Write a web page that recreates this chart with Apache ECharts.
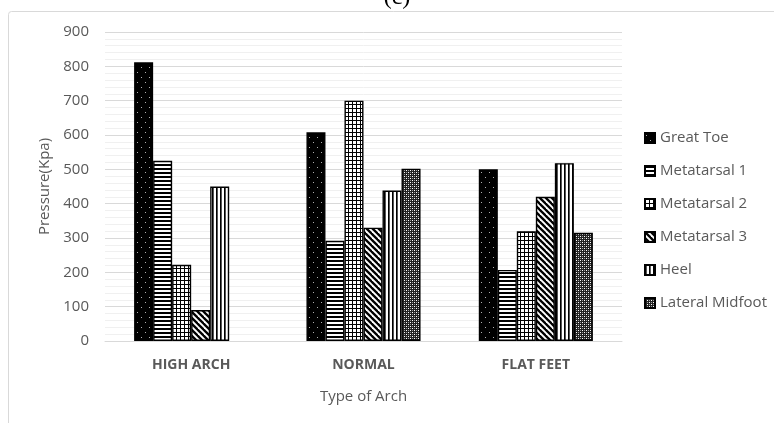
<!DOCTYPE html>
<html>
<head>
<meta charset="utf-8">
<script src="https://cdn.jsdelivr.net/npm/echarts@6/dist/echarts.min.js"></script>
<style>
  html, body { margin: 0; padding: 0; background: #fff; }
  #chart { width: 774px; height: 423px; }
</style>
</head>
<body>
<div id="chart"></div>
<script>
// Plantar pressure by arch type
const categories = ['HIGH ARCH', 'NORMAL', 'FLAT FEET'];
const greatToe = [812, 608, 500];
const metatarsal1 = [525, 292, 207];
const metatarsal2 = [222, 700, 320];
const metatarsal3 = [90, 330, 420];
const heel = [450, 438, 518];
const lateralMidfoot = [0, 502, 315];
const yTicks = { min: 0, max: 900, interval: 100 };

// Monochrome hatch fills built on small canvases
function pattern(w, h, draw) {
  const c = document.createElement('canvas');
  c.width = w; c.height = h;
  const ctx = c.getContext('2d');
  draw(ctx, w, h);
  return { image: c, repeat: 'repeat' };
}
const fills = {
  dots: pattern(8, 10, (ctx) => {
    ctx.fillStyle = '#000'; ctx.fillRect(0, 0, 8, 10);
    ctx.fillStyle = '#b0b0b0';
    ctx.fillRect(1, 2, 1, 1); ctx.fillRect(5, 7, 1, 1);
  }),
  horiz: pattern(1, 4, (ctx) => {
    ctx.fillStyle = '#fff'; ctx.fillRect(0, 0, 1, 4);
    ctx.fillStyle = '#000'; ctx.fillRect(0, 0, 1, 2);
  }),
  grid: pattern(4, 4, (ctx) => {
    ctx.fillStyle = '#fff'; ctx.fillRect(0, 0, 4, 4);
    ctx.fillStyle = '#000'; ctx.fillRect(0, 0, 4, 1); ctx.fillRect(0, 0, 1, 4);
  }),
  diag: pattern(6, 6, (ctx) => {
    ctx.fillStyle = '#fff'; ctx.fillRect(0, 0, 6, 6);
    ctx.strokeStyle = '#000'; ctx.lineWidth = 2.3;
    [-6, 0, 6].forEach(o => { ctx.beginPath(); ctx.moveTo(o - 1, -1); ctx.lineTo(o + 7, 7); ctx.stroke(); });
  }),
  vert: pattern(4, 1, (ctx) => {
    ctx.fillStyle = '#fff'; ctx.fillRect(0, 0, 4, 1);
    ctx.fillStyle = '#000'; ctx.fillRect(0, 0, 1, 1);
    ctx.fillStyle = '#555'; ctx.fillRect(1, 0, 1, 1);
  }),
  check: pattern(4, 4, (ctx) => {
    ctx.fillStyle = '#222'; ctx.fillRect(0, 0, 4, 4);
    ctx.fillStyle = '#fff'; ctx.fillRect(0, 0, 1, 1); ctx.fillRect(2, 2, 1, 1);
    ctx.fillStyle = '#9a9a9a'; ctx.fillRect(2, 0, 1, 1); ctx.fillRect(0, 2, 1, 1);
  })
};

const seriesDefs = [
  ['Great Toe', greatToe, fills.dots],
  ['Metatarsal 1', metatarsal1, fills.horiz],
  ['Metatarsal 2', metatarsal2, fills.grid],
  ['Metatarsal 3', metatarsal3, fills.diag],
  ['Heel', heel, fills.vert],
  ['Lateral Midfoot', lateralMidfoot, fills.check]
];

const textGray = '#595959';
const chart = echarts.init(document.getElementById('chart'), null, { renderer: 'canvas' });
chart.setOption({
  backgroundColor: '#fff',
  animation: false,
  graphic: [
    { type: 'rect', shape: { x: 8.5, y: 11.5, width: 820, height: 460, r: 3 },
      style: { fill: 'none', stroke: '#d9d9d9', lineWidth: 1 }, z: -10 },
    { type: 'text', x: 397, y: 10,
      style: { text: '(c)', font: '24px "Liberation Serif", serif', fill: '#000', align: 'center', verticalAlign: 'bottom' } }
  ],
  grid: { left: 105, right: 152, top: 32, bottom: 82 },
  legend: {
    orient: 'vertical', left: 639, top: 124,
    icon: 'rect', itemWidth: 10, itemHeight: 10, itemGap: 15,
    textStyle: { color: textGray, fontSize: 15, lineHeight: 18, fontFamily: '"Open Sans", sans-serif' }
  },
  xAxis: {
    type: 'category', data: categories,
    name: 'Type of Arch', nameLocation: 'middle', nameGap: 48,
    nameTextStyle: { color: textGray, fontSize: 15, fontFamily: '"Open Sans", sans-serif' },
    axisLine: { lineStyle: { color: '#d9d9d9' } },
    axisTick: { show: false },
    axisLabel: { color: textGray, fontSize: 14, fontWeight: 'bold', margin: 17, fontFamily: '"Open Sans", sans-serif' }
  },
  yAxis: {
    type: 'value', min: yTicks.min, max: yTicks.max, interval: yTicks.interval,
    name: 'Pressure(Kpa)', nameLocation: 'middle', nameGap: 49,
    nameTextStyle: { color: textGray, fontSize: 15, fontFamily: '"Open Sans", sans-serif' },
    axisLine: { show: false }, axisTick: { show: false },
    axisLabel: { color: textGray, fontSize: 15, margin: 16, fontFamily: '"Open Sans", sans-serif' },
    splitLine: { lineStyle: { color: '#d9d9d9' } },
    minorTick: { show: false, splitNumber: 5 },
    minorSplitLine: { show: true, lineStyle: { color: '#f0f0f0' } }
  },
  series: seriesDefs.map(([name, data, fill]) => ({
    name, type: 'bar',
    // a zero reading leaves no visible bar, so it gets no outline either
    data: data.map(v => (v === 0 ? { value: v, itemStyle: { borderWidth: 0 } } : v)),
    barGap: '0%', barCategoryGap: '33.8%',
    itemStyle: { color: fill, borderColor: '#000', borderWidth: 1.4 }
  }))
});
</script>
</body>
</html>
